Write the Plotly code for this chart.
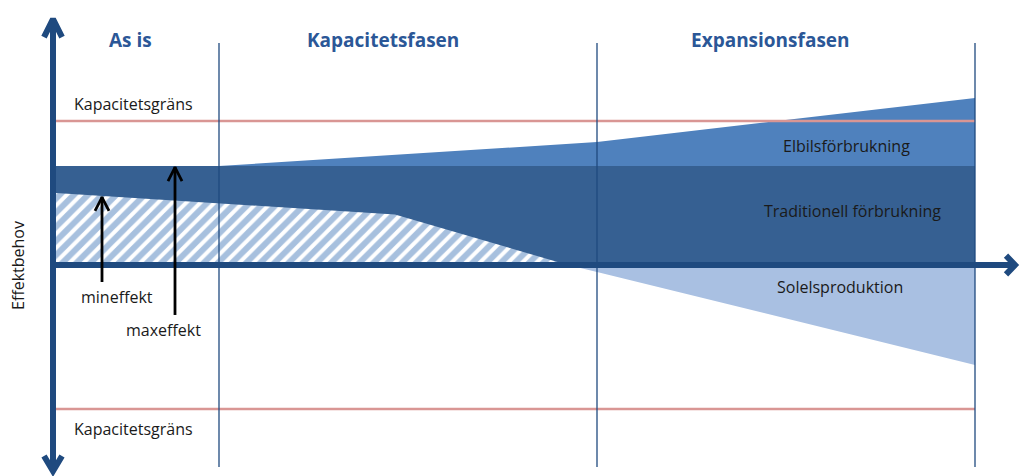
import plotly.graph_objects as go

# ---- data (x: time along the horizontal axis, y: effect, capacity limit = 100) ----
phase_names = ["As is", "Kapacitetsfasen", "Expansionsfasen"]
phase_edges = [0, 166, 544, 922]          # y-axis position followed by phase boundaries
capacity_limit = 100

trad_x = [3, 922]
trad_level = 68.75                          # Traditionell förbrukning (max effect)

min_x = [3, 166, 342, 515]                  # mineffekt curve (hatched area)
min_y = [50, 43, 35, 0]

elbil_x = [166, 544, 922]                   # Elbilsförbrukning on top of traditional use
elbil_y = [68.75, 85.4, 116]

sol_x = [515, 544, 922]                     # Solelsproduktion (negative effect)
sol_y = [0, -4.9, -69.4]

arrow_min_x, arrow_min_base = 49, -11.8
arrow_max_x, arrow_max_base = 122, -34.7

# ---- styling ----
AXIS = "#1f4a7f"
TRAD = "#366092"
ELBIL = "#4f81bd"
SOL = "#a9c0e2"
CAP = "#d99694"
TEXT = "#1a1a1a"
HEAD = "#2b5797"
FONT = "'Open Sans', Lato, sans-serif"

Y_PX = 1.44  # pixels per effect unit

fig = go.Figure()

# traditional consumption band
fig.add_trace(go.Scatter(
    x=[trad_x[0], trad_x[1], trad_x[1], trad_x[0], trad_x[0]],
    y=[0, 0, trad_level, trad_level, 0],
    fill="toself", fillcolor=TRAD, line=dict(width=0), mode="lines",
    hoverinfo="skip", showlegend=False))

# minimum effect, hatched
hx = min_x + [min_x[-1], min_x[0]]
hy = min_y + [0, 0]
fig.add_trace(go.Scatter(
    x=hx, y=hy, fill="toself", mode="lines", line=dict(width=0),
    fillcolor="white",
    fillpattern=dict(shape="/", fgcolor=ELBIL, bgcolor="white", size=10, solidity=0.6),
    hoverinfo="skip", showlegend=False))

# EV consumption on top
ex = elbil_x + elbil_x[::-1]
ey = elbil_y + [trad_level] * len(elbil_x)
fig.add_trace(go.Scatter(
    x=ex, y=ey, fill="toself", fillcolor=ELBIL, line=dict(width=0), mode="lines",
    hoverinfo="skip", showlegend=False))

# solar production below the axis
sx = sol_x + sol_x[::-1]
sy = sol_y + [0] * len(sol_x)
fig.add_trace(go.Scatter(
    x=sx, y=sy, fill="toself", fillcolor=SOL, line=dict(width=0), mode="lines",
    hoverinfo="skip", showlegend=False))

# capacity limits
for lvl in (capacity_limit, -capacity_limit):
    fig.add_trace(go.Scatter(
        x=[trad_x[0], trad_x[1]], y=[lvl, lvl], mode="lines",
        line=dict(color=CAP, width=2.7), hoverinfo="skip", showlegend=False))

# phase boundaries
for xe in phase_edges[1:]:
    fig.add_trace(go.Scatter(
        x=[xe, xe], y=[154.2, -140.3], mode="lines",
        line=dict(color=AXIS, width=1.3), hoverinfo="skip", showlegend=False))

# main axes with open arrow heads
y_top, y_bot, x_end = 170.8, -143.1, 962


def chevron(tip_x, tip_y, dx, dy):
    return [tip_x - dx[0], tip_x, tip_x - dx[1]], [tip_y - dy[0], tip_y, tip_y - dy[1]]


axis_paths = [
    ([0, 0], [y_bot, y_top]),
    ([0, x_end], [0, 0]),
    chevron(0, y_top, (9, -9), (12.5, 12.5)),
    chevron(0, y_bot, (9, -9), (-10.5, -10.5)),
    chevron(x_end, 0, (9, 9), (6.5, -6.5)),
]
for px_, py_ in axis_paths:
    fig.add_trace(go.Scatter(
        x=px_, y=py_, mode="lines", line=dict(color=AXIS, width=6),
        hoverinfo="skip", showlegend=False))

# min / max effect arrows
arrow_min_tip = min_y[0] + (min_y[1] - min_y[0]) * (arrow_min_x - min_x[0]) / (min_x[1] - min_x[0])
for ax_, base, tip in ((arrow_min_x, arrow_min_base, arrow_min_tip),
                       (arrow_max_x, arrow_max_base, trad_level)):
    fig.add_trace(go.Scatter(
        x=[ax_, ax_], y=[base, tip - 0.5], mode="lines",
        line=dict(color="black", width=2.8), hoverinfo="skip", showlegend=False))
    cx, cy = chevron(ax_, tip - 1.0, (7, -7), (9.5, 9.5))
    fig.add_trace(go.Scatter(
        x=cx, y=cy, mode="lines",
        line=dict(color="black", width=2.8), hoverinfo="skip", showlegend=False))

annotations = []
phase_centers = [77, 330, 717]
for name, xc in zip(phase_names, phase_centers):
    annotations.append(dict(x=xc, y=(265 - 40) / Y_PX, text=f"<b>{name}</b>",
                            font=dict(family=FONT, size=19, color=HEAD)))

labels = [
    ("Kapacitetsgräns", 19, (265 - 104) / Y_PX, "left"),
    ("Kapacitetsgräns", 19, (265 - 429) / Y_PX, "left"),
    ("mineffekt", 64, (265 - 297) / Y_PX, "center"),
    ("maxeffekt", 110, (265 - 330) / Y_PX, "center"),
    ("Elbilsförbrukning", 793, (265 - 146) / Y_PX, "center"),
    ("Traditionell förbrukning", 799, (265 - 211) / Y_PX, "center"),
    ("Solelsproduktion", 787, (265 - 287) / Y_PX, "center"),
]
for txt, x_, y_, anchor in labels:
    annotations.append(dict(x=x_, y=y_, text=txt, xanchor=anchor,
                            font=dict(family=FONT, size=16, color=TEXT)))

annotations.append(dict(x=-35, y=(265 - 266) / Y_PX, text="Effektbehov", textangle=-90,
                        font=dict(family=FONT, size=16, color=TEXT)))

for a in annotations:
    a.setdefault("xref", "x")
    a.setdefault("yref", "y")
    a["showarrow"] = False

fig.update_layout(
    width=1020, height=476, autosize=False,
    margin=dict(l=0, r=0, t=0, b=0),
    paper_bgcolor="white", plot_bgcolor="white",
    xaxis=dict(range=[-53, 967], visible=False, fixedrange=True),
    yaxis=dict(range=[-(476 - 265) / Y_PX, 265 / Y_PX], visible=False, fixedrange=True),
    annotations=annotations,
    showlegend=False,
)

fig.write_html("out.html")
